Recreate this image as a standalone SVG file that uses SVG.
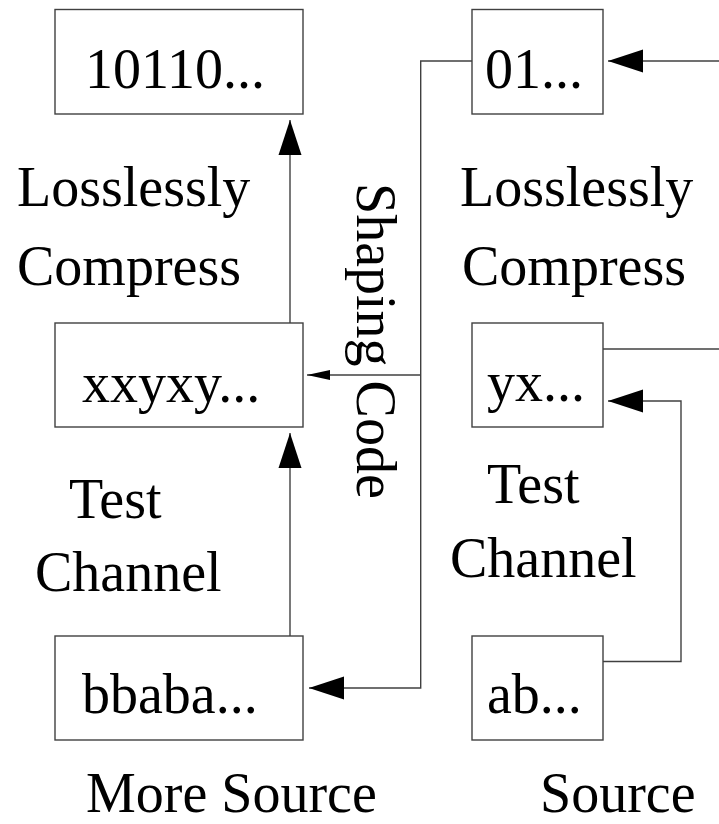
<svg xmlns="http://www.w3.org/2000/svg" width="719" height="824" viewBox="0 0 719 824">
  <style>
    .box { fill: #ffffff; stroke: #404040; stroke-width: 1.4; }
    .wire { fill: none; stroke: #404040; stroke-width: 1.4; }
    .lbl { font-family: "Liberation Serif", "Times New Roman", serif; font-size: 56px; fill: #000000; }
  </style>
  <defs>
    <marker id="head" markerUnits="userSpaceOnUse" viewBox="0 -12 35 24" refX="35" refY="0" markerWidth="35" markerHeight="24" orient="auto">
      <path d="M0,-11.5 L35,0 L0,11.5 z" fill="#000000"/>
    </marker>
    <marker id="headSmall" markerUnits="userSpaceOnUse" viewBox="0 -6 23 12" refX="23" refY="0" markerWidth="23" markerHeight="12" orient="auto">
      <path d="M0,-5 L23,0 L0,5 z" fill="#000000"/>
    </marker>
  </defs>

  <rect width="719" height="824" fill="#ffffff"/>

  <!-- connectors -->
  <g id="connectors">
    <!-- left column: upward flow -->
    <line class="wire" x1="290" y1="323" x2="290" y2="120" marker-end="url(#head)"/>
    <line class="wire" x1="290" y1="636" x2="290" y2="433" marker-end="url(#head)"/>
    <!-- shaping code feed from 01... -->
    <polyline class="wire" points="472,61 420.7,61 420.7,688 309,688" marker-end="url(#head)"/>
    <line class="wire" x1="420.7" y1="375" x2="307" y2="375" marker-end="url(#headSmall)"/>
    <!-- right column -->
    <line class="wire" x1="719" y1="61" x2="608" y2="61" marker-end="url(#head)"/>
    <line class="wire" x1="603" y1="349" x2="719" y2="349"/>
    <polyline class="wire" points="603,661.5 681,661.5 681,401 608,401" marker-end="url(#head)"/>
  </g>

  <!-- nodes -->
  <g id="node-10110">
    <rect class="box" x="55" y="9.5" width="248" height="104.5"/>
    <text class="lbl" x="85" y="88">10110...</text>
  </g>
  <g id="node-01">
    <rect class="box" x="472" y="9.5" width="131" height="104.5"/>
    <text class="lbl" x="485" y="88">01...</text>
  </g>
  <g id="node-xxyxy">
    <rect class="box" x="55" y="323" width="248" height="104"/>
    <text class="lbl" x="82" y="402">xxyxy...</text>
  </g>
  <g id="node-yx">
    <rect class="box" x="472" y="323" width="131" height="104"/>
    <text class="lbl" x="487" y="401">yx...</text>
  </g>
  <g id="node-bbaba">
    <rect class="box" x="55" y="636" width="248" height="104"/>
    <text class="lbl" x="82" y="713">bbaba...</text>
  </g>
  <g id="node-ab">
    <rect class="box" x="472" y="636" width="131" height="104"/>
    <text class="lbl" x="487" y="713">ab...</text>
  </g>

  <!-- labels -->
  <g id="labels">
    <text class="lbl" x="17" y="206">Losslessly</text>
    <text class="lbl" x="17" y="285">Compress</text>
    <text class="lbl" x="460" y="206">Losslessly</text>
    <text class="lbl" x="462" y="285">Compress</text>
    <text class="lbl" x="69" y="518">Test</text>
    <text class="lbl" x="35" y="591">Channel</text>
    <text class="lbl" x="487" y="503">Test</text>
    <text class="lbl" x="450" y="577">Channel</text>
    <text class="lbl" x="86" y="812">More Source</text>
    <text class="lbl" x="540" y="812">Source</text>
    <text class="lbl" transform="translate(357,183) rotate(90)">Shaping Code</text>
  </g>
</svg>
